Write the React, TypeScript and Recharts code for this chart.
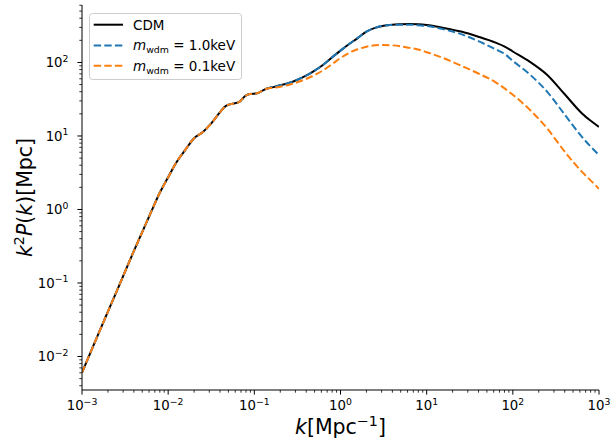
import { Legend, Line, LineChart, XAxis, YAxis } from "recharts";

// wavenumber k [Mpc^-1]
const K = [
  0.001, 0.00158, 0.00251, 0.00398, 0.00631, 0.00794, 0.01, 0.0126, 0.0158,
  0.02, 0.0251, 0.0316, 0.0398, 0.0468, 0.0562, 0.0661, 0.0794, 0.0891, 0.107,
  0.126, 0.141, 0.166, 0.2, 0.251, 0.316, 0.398, 0.501, 0.631, 0.794, 1, 1.26,
  1.58, 2, 2.51, 3.16, 3.98, 5.01, 6.31, 7.94, 10, 15.8, 25.1, 39.8, 63.1,
  79.4, 100, 158, 251, 398, 631, 794, 1000,
];

// k^2 P(k) [Mpc]
const CDM = [
  0.00603, 0.0214, 0.0759, 0.269, 0.912, 1.66, 2.75, 4.47, 6.46, 9.33, 11.2,
  14.8, 20.9, 25.7, 27.5, 28.8, 35.5, 37.2, 38.0, 41.7, 44.2, 46.2, 49.0, 52.5,
  58.2, 66.1, 77.6, 93.3, 117, 145, 178, 214, 263, 295, 316, 327, 331, 333,
  331, 324, 295, 263, 224, 186, 166, 141, 102, 67.6, 37.2, 20.4, 16.2, 13.3,
];

const WDM_1KEV = [
  0.00603, 0.0214, 0.0759, 0.269, 0.912, 1.66, 2.75, 4.47, 6.46, 9.33, 11.2,
  14.8, 20.9, 25.7, 27.5, 28.8, 35.5, 37.2, 38.0, 41.7, 44.2, 46.2, 49.0, 52.5,
  58.2, 66.1, 77.6, 93.3, 117, 145, 178, 214, 263, 295, 316, 324, 327, 327,
  320, 313, 282, 243, 195, 151, 132, 105, 68.4, 39.8, 19.7, 9.77, 7.24, 5.5,
];

const WDM_01KEV = [
  0.00603, 0.0214, 0.0759, 0.269, 0.912, 1.66, 2.75, 4.47, 6.46, 9.33, 11.2,
  14.8, 20.9, 25.7, 27.5, 28.8, 35.5, 37.2, 38.0, 41.7, 44.2, 45.2, 46.8, 49.5,
  53.7, 59.6, 67.6, 78.5, 94.4, 115, 135, 151, 164, 171, 173, 171, 166, 158,
  150, 138, 114, 90.2, 70.8, 53.7, 44.7, 36.3, 22.6, 12.6, 6.17, 3.27, 2.51,
  1.91,
];

const X_MAJOR = [1e-3, 1e-2, 1e-1, 1, 10, 100, 1000];
const Y_MAJOR = [1e-2, 1e-1, 1, 10, 100];
const X_DOMAIN = [1e-3, 1e3];
const Y_DOMAIN = [0.0035, 605];

const data = K.map((k, i) => ({
  k,
  cdm: CDM[i],
  wdm1: WDM_1KEV[i],
  wdm01: WDM_01KEV[i],
}));

function withMinor(lo: number, hi: number, min: number, max: number) {
  const out: number[] = [];
  for (let d = lo; d <= hi; d++) {
    for (let m = 1; m <= 9; m++) {
      const v = Number((m * Math.pow(10, d)).toPrecision(3));
      if (v >= min && v <= max) out.push(v);
    }
  }
  return out;
}

const X_TICKS = withMinor(-3, 3, 1e-3, 1e3);
const Y_TICKS = withMinor(-3, 2, Y_DOMAIN[0], Y_DOMAIN[1]);

const FONT = "DejaVu Sans, sans-serif";
const TICK_FS = 13.3;
const SUP_FS = 9.3;
const LABEL_FS = 20.5;

function isMajor(v: number) {
  const e = Math.log10(v);
  return Math.abs(e - Math.round(e)) < 1e-6;
}

function expText(v: number) {
  const e = Math.round(Math.log10(v));
  return e < 0 ? `\u2212${-e}` : `${e}`;
}

function BottomTick(props: any) {
  const { x, y, payload } = props;
  const major = isMajor(payload.value);
  return (
    <g>
      <line
        x1={x}
        x2={x}
        y1={y}
        y2={y + (major ? 4.6 : 2.7)}
        stroke="#000"
        strokeWidth={major ? 1 : 0.8}
      />
      {major && (
        <text
          x={x}
          y={y + 20}
          textAnchor="middle"
          fontFamily={FONT}
          fontSize={TICK_FS}
          fill="#000"
        >
          10
          <tspan dy={-5.5} fontSize={SUP_FS}>
            {expText(payload.value)}
          </tspan>
        </text>
      )}
    </g>
  );
}

function LeftTick(props: any) {
  const { x, y, payload } = props;
  const major = isMajor(payload.value);
  return (
    <g>
      <line
        x1={x - (major ? 4.6 : 2.7)}
        x2={x}
        y1={y}
        y2={y}
        stroke="#000"
        strokeWidth={major ? 1 : 0.8}
      />
      {major && (
        <text
          x={x - 13.5}
          y={y + 4.6}
          textAnchor="end"
          fontFamily={FONT}
          fontSize={TICK_FS}
          fill="#000"
        >
          10
          <tspan dy={-5.5} fontSize={SUP_FS}>
            {expText(payload.value)}
          </tspan>
        </text>
      )}
    </g>
  );
}

function TopTick(props: any) {
  const { x, y } = props;
  return <line x1={x} x2={x} y1={y - 4.6} y2={y} stroke="#000" strokeWidth={1} />;
}

function RightTick(props: any) {
  const { x, y } = props;
  return <line x1={x} x2={x + 4.6} y1={y} y2={y} stroke="#000" strokeWidth={1} />;
}

function XLabel() {
  return (
    <text x={340.5} y={434} textAnchor="middle" fontFamily={FONT} fontSize={LABEL_FS} fill="#000">
      <tspan fontStyle="italic">k</tspan>
      <tspan>[Mpc</tspan>
      <tspan dy={-8.5} fontSize={14.3}>
        {"\u22121"}
      </tspan>
      <tspan dy={8.5}>]</tspan>
    </text>
  );
}

function YLabel() {
  return (
    <text
      x={0}
      y={0}
      transform="translate(32,197.5) rotate(-90)"
      textAnchor="middle"
      fontFamily={FONT}
      fontSize={LABEL_FS}
      fill="#000"
    >
      <tspan fontStyle="italic">k</tspan>
      <tspan dy={-8.5} fontSize={14.3}>
        2
      </tspan>
      <tspan dy={8.5} fontStyle="italic">
        P
      </tspan>
      <tspan>(</tspan>
      <tspan fontStyle="italic">k</tspan>
      <tspan>)[Mpc]</tspan>
    </text>
  );
}

function LegendBox() {
  const rows = [
    { color: "#000000", dash: undefined, y: 11.7 },
    { color: "#1f77b4", dash: "7.4 3.2", y: 32.4 },
    { color: "#ff7f0e", dash: "7.4 3.2", y: 52.7 },
  ];
  const masses = ["1.0", "0.1"];
  return (
    <svg width={153} height={67} style={{ display: "block" }}>
      <rect
        x={0.5}
        y={0.5}
        width={152}
        height={66}
        rx={3}
        fill="rgba(255,255,255,0.8)"
        stroke="#cccccc"
        strokeWidth={1}
      />
      {rows.map((r, i) => (
        <g key={i}>
          <line
            x1={4.7}
            x2={34}
            y1={r.y}
            y2={r.y}
            stroke={r.color}
            strokeWidth={2}
            strokeDasharray={r.dash}
          />
          <text x={44} y={r.y + 4.9} fontFamily={FONT} fontSize={13.5} fill="#000">
            {i === 0 ? (
              "CDM"
            ) : (
              <>
                <tspan fontStyle="italic">m</tspan>
                <tspan dy={3} fontSize={9.4}>
                  wdm
                </tspan>
                <tspan dy={-3}>{` = ${masses[i - 1]}keV`}</tspan>
              </>
            )}
          </text>
        </g>
      ))}
    </svg>
  );
}

export default function App() {
  return (
    <div
      style={{
        position: "absolute",
        left: 0,
        top: 0,
        width: 611,
        height: 445,
        background: "#fff",
      }}
    >
      <LineChart
        width={611}
        height={445}
        data={data}
        margin={{ top: 5, right: 12, bottom: 25, left: 22 }}
      >
        <XAxis
          dataKey="k"
          type="number"
          scale="log"
          domain={X_DOMAIN}
          allowDataOverflow
          ticks={X_TICKS}
          interval={0}
          tick={(p: any) => <BottomTick {...p} />}
          tickLine={false}
          tickSize={0}
          tickMargin={0}
          height={30}
          axisLine={{ stroke: "#000", strokeWidth: 1 }}
          label={() => <XLabel />}
        />
        <XAxis
          xAxisId="top"
          orientation="top"
          dataKey="k"
          type="number"
          scale="log"
          domain={X_DOMAIN}
          allowDataOverflow
          ticks={X_MAJOR}
          interval={0}
          tick={(p: any) => <TopTick {...p} />}
          tickLine={false}
          tickSize={0}
          tickMargin={0}
          height={0}
          axisLine={{ stroke: "#000", strokeWidth: 1 }}
        />
        <YAxis
          type="number"
          scale="log"
          domain={Y_DOMAIN}
          allowDataOverflow
          ticks={Y_TICKS}
          interval={0}
          tick={(p: any) => <LeftTick {...p} />}
          tickLine={false}
          tickSize={0}
          tickMargin={0}
          width={60}
          axisLine={{ stroke: "#000", strokeWidth: 1 }}
          label={() => <YLabel />}
        />
        <YAxis
          yAxisId="right"
          orientation="right"
          type="number"
          scale="log"
          domain={Y_DOMAIN}
          allowDataOverflow
          ticks={Y_MAJOR}
          interval={0}
          tick={(p: any) => <RightTick {...p} />}
          tickLine={false}
          tickSize={0}
          tickMargin={0}
          width={0}
          axisLine={{ stroke: "#000", strokeWidth: 1 }}
        />
        <Legend
          layout="horizontal"
          verticalAlign="middle"
          align="center"
          wrapperStyle={{ left: 89, top: 13, width: 153, height: 67 }}
          content={() => <LegendBox />}
        />
        <Line
          dataKey="cdm"
          stroke="#000000"
          strokeWidth={2}
          type="monotone"
          dot={false}
          activeDot={false}
          isAnimationActive={false}
        />
        <Line
          dataKey="wdm1"
          stroke="#1f77b4"
          strokeWidth={2}
          strokeDasharray="7.4 3.2"
          type="monotone"
          dot={false}
          activeDot={false}
          isAnimationActive={false}
        />
        <Line
          dataKey="wdm01"
          stroke="#ff7f0e"
          strokeWidth={2}
          strokeDasharray="7.4 3.2"
          type="monotone"
          dot={false}
          activeDot={false}
          isAnimationActive={false}
        />
      </LineChart>
    </div>
  );
}
